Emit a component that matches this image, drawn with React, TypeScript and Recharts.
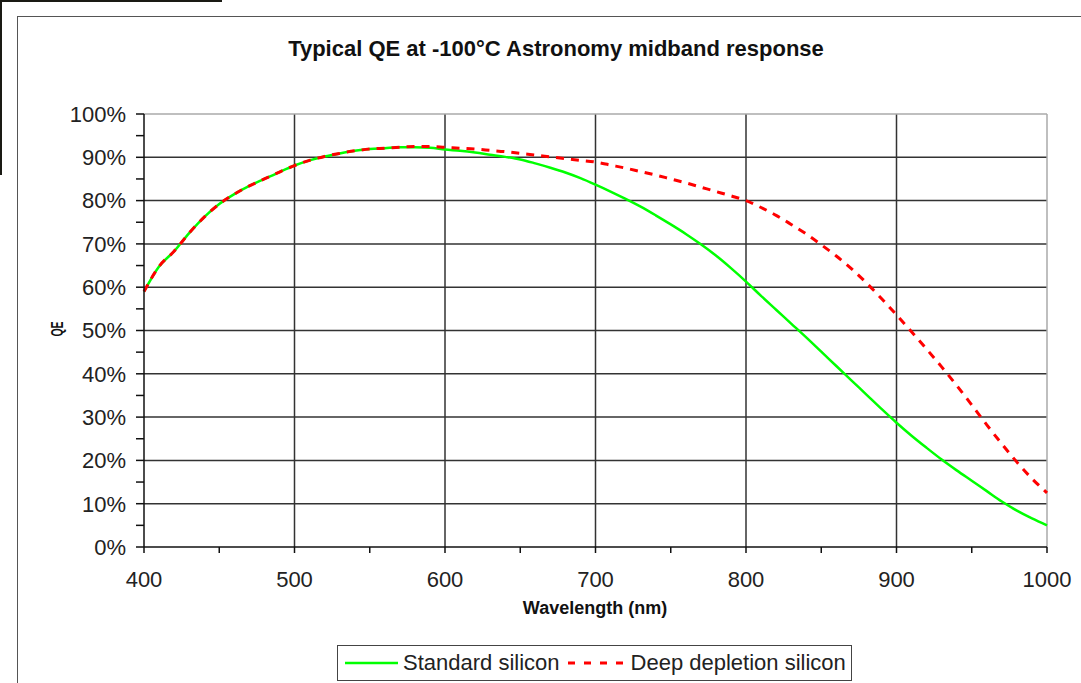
import {
  CartesianGrid,
  Line,
  LineChart,
  ReferenceLine,
  XAxis,
  YAxis,
} from 'recharts';

// Wavelength in nm, 10nm steps
const WAVELENGTHS = [
  400, 410, 420, 430, 440, 450, 460, 470, 480, 490,
  500, 510, 520, 530, 540, 550, 560, 570, 580, 590,
  600, 610, 620, 630, 640, 650, 660, 670, 680, 690,
  700, 710, 720, 730, 740, 750, 760, 770, 780, 790,
  800, 810, 820, 830, 840, 850, 860, 870, 880, 890,
  900, 910, 920, 930, 940, 950, 960, 970, 980, 990,
  1000,
];

// QE in %
const STANDARD_SILICON = [
  59.0, 64.8, 68.3, 72.5, 76.2, 79.2, 81.5, 83.4, 85.0, 86.6,
  88.1, 89.3, 90.2, 90.9, 91.5, 91.9, 92.1, 92.3, 92.3, 92.2,
  91.8, 91.5, 91.1, 90.6, 90.1, 89.5, 88.6, 87.6, 86.5, 85.2,
  83.7, 82.1, 80.4, 78.6, 76.6, 74.5, 72.3, 69.9, 67.3, 64.4,
  61.3, 58.0, 54.8, 51.6, 48.4, 45.1, 41.8, 38.5, 35.2, 31.9,
  28.7, 25.7, 22.9, 20.2, 17.7, 15.3, 12.9, 10.5, 8.4, 6.6,
  5.0,
];

const DEEP_DEPLETION = [
  59.0, 64.8, 68.3, 72.5, 76.2, 79.2, 81.5, 83.4, 85.0, 86.6,
  88.1, 89.3, 90.2, 90.9, 91.5, 91.9, 92.1, 92.3, 92.5, 92.5,
  92.3, 92.1, 91.9, 91.6, 91.3, 90.9, 90.5, 90.1, 89.7, 89.3,
  88.9, 88.2, 87.5, 86.7, 85.9, 85.0, 84.1, 83.1, 82.1, 81.1,
  80.0, 78.4, 76.6, 74.5, 72.3, 69.8, 67.2, 64.3, 61.0, 57.4,
  53.6, 49.7, 45.7, 41.6, 37.3, 32.8, 28.2, 23.8, 19.6, 15.8,
  12.5,
];

const X_TICKS = [400, 450, 500, 550, 600, 650, 700, 750, 800, 850, 900, 950, 1000];
const Y_TICKS = [0, 5, 10, 15, 20, 25, 30, 35, 40, 45, 50, 55, 60, 65, 70, 75, 80, 85, 90, 95, 100];
const GRID_X = [500, 600, 700, 800, 900];
const GRID_Y = [10, 20, 30, 40, 50, 60, 70, 80, 90];

const FONT = '"Liberation Sans", Arial, sans-serif';
const GREEN = '#00ff00';
const RED = '#ff0000';

const data = WAVELENGTHS.map((wl, i) => ({
  wl,
  standard: STANDARD_SILICON[i],
  deep: DEEP_DEPLETION[i],
}));

function QeLegend() {
  return (
    <div
      style={{
        position: 'absolute',
        left: 337,
        top: 645,
        width: 513,
        height: 34,
        border: '1.5px solid #444',
        display: 'flex',
        alignItems: 'center',
        fontSize: 22,
        color: '#222',
        background: '#fff',
        whiteSpace: 'nowrap',
      }}
    >
      <svg width={65} height={10} style={{ marginLeft: 7 }}>
        <line x1={0} y1={5} x2={53} y2={5} stroke={GREEN} strokeWidth={2.5} />
      </svg>
      <span style={{ marginLeft: -7 }}>Standard silicon</span>
      <svg width={66} height={10} style={{ marginLeft: 8 }}>
        <line x1={0} y1={5} x2={60} y2={5} stroke={RED} strokeWidth={3} strokeDasharray="7 9" />
      </svg>
      <span style={{ marginLeft: -3 }}>Deep depletion silicon</span>
    </div>
  );
}

export default function App() {
  return (
    <div
      style={{
        position: 'fixed',
        top: 0,
        left: 0,
        width: 1081,
        height: 683,
        background: '#fff',
        overflow: 'hidden',
        fontFamily: FONT,
      }}
    >
      {/* page edge artifacts */}
      <div style={{ position: 'absolute', left: 0, top: 0, width: 222, height: 2, background: '#1a1a14' }} />
      <div style={{ position: 'absolute', left: 0, top: 0, width: 2, height: 175, background: '#1a1a14' }} />
      {/* chart frame */}
      <div
        style={{
          position: 'absolute',
          left: 17,
          top: 16,
          width: 1100,
          height: 700,
          borderTop: '1.5px solid #555',
          borderLeft: '1.5px solid #555',
        }}
      />

      <div
        style={{
          position: 'absolute',
          left: 0,
          top: 36,
          width: 1112,
          textAlign: 'center',
          fontWeight: 'bold',
          fontSize: 22,
          color: '#111',
        }}
      >
        Typical QE at -100°C Astronomy midband response
      </div>

      <div
        style={{
          position: 'absolute',
          left: 595 - 150,
          top: 598,
          width: 300,
          textAlign: 'center',
          fontWeight: 'bold',
          fontSize: 18,
          color: '#111',
        }}
      >
        Wavelength (nm)
      </div>

      <div
        style={{
          position: 'absolute',
          left: 58 - 30,
          top: 330 - 11,
          width: 60,
          textAlign: 'center',
          fontWeight: 'bold',
          fontSize: 17,
          color: '#111',
          transform: 'rotate(-90deg) scaleX(0.62)',
        }}
      >
        QE
      </div>

      <div style={{ position: 'absolute', left: 0, top: 0 }}>
        <LineChart
          width={1081}
          height={683}
          data={data}
          margin={{ top: 114, right: 34, bottom: 106, left: 84 }}
        >
          <CartesianGrid
            horizontalValues={GRID_Y}
            verticalValues={GRID_X}
            stroke="#333"
            strokeWidth={1.5}
          />
          <ReferenceLine y={100} stroke="#aaa" strokeWidth={1.5} />
          <ReferenceLine x={1000} stroke="#aaa" strokeWidth={1.5} />
          <XAxis
            dataKey="wl"
            type="number"
            domain={[400, 1000]}
            ticks={X_TICKS}
            interval={0}
            height={30}
            tickSize={6}
            tickMargin={18}
            axisLine={{ stroke: '#111', strokeWidth: 1.5 }}
            tickLine={{ stroke: '#111', strokeWidth: 1.5 }}
            tick={{ fontSize: 22, fill: '#222', fontFamily: FONT }}
            tickFormatter={(v: number) => (v % 100 === 0 ? String(v) : '')}
          />
          <YAxis
            type="number"
            domain={[0, 100]}
            ticks={Y_TICKS}
            interval={0}
            width={60}
            tickSize={8}
            tickMargin={10}
            axisLine={{ stroke: '#111', strokeWidth: 1.5 }}
            tickLine={{ stroke: '#111', strokeWidth: 1.5 }}
            tick={{ fontSize: 22, fill: '#222', fontFamily: FONT }}
            tickFormatter={(v: number) => (v % 10 === 0 ? `${v}%` : '')}
          />
          <Line
            dataKey="standard"
            type="monotone"
            stroke={GREEN}
            strokeWidth={2.5}
            dot={false}
            isAnimationActive={false}
          />
          <Line
            dataKey="deep"
            type="monotone"
            stroke={RED}
            strokeWidth={3}
            strokeDasharray="8 7"
            dot={false}
            isAnimationActive={false}
          />
        </LineChart>
      </div>

      <QeLegend />
    </div>
  );
}
